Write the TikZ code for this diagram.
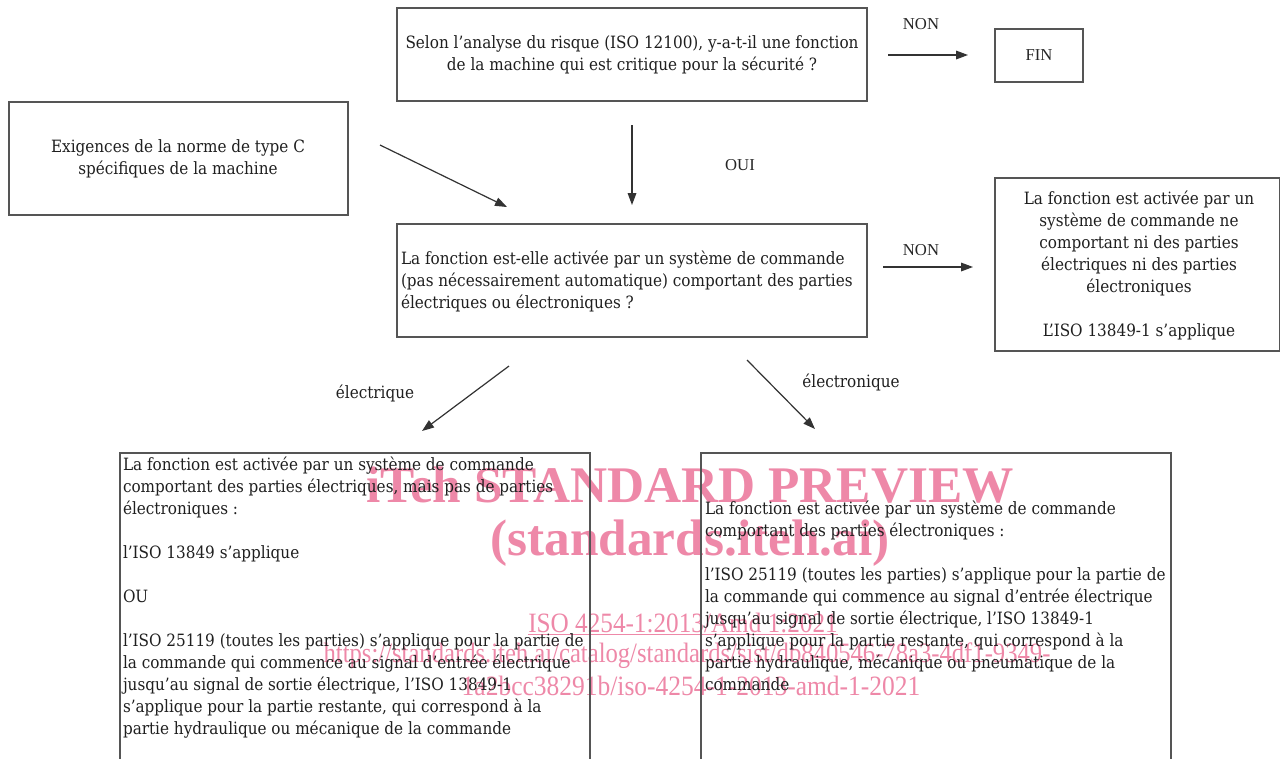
\documentclass[tikz,border=0pt]{standalone}
\usepackage{fontspec}
\setmainfont{DejaVu Serif Condensed}
\newfontfamily\wmfont{Liberation Serif}
\usetikzlibrary{arrows.meta}
\definecolor{boxline}{HTML}{555555}
\definecolor{arrline}{HTML}{333333}
\definecolor{wmpink}{HTML}{EE88A8}
\begin{document}
\begin{tikzpicture}[x=0.75pt,y=-0.75pt,
  every node/.style={inner sep=0pt,outer sep=0pt},
  txt/.style={font=\fontsize{12.7}{16.5}\selectfont,text=black!88},
  lbl/.style={font=\wmfont\fontsize{12.5}{15}\selectfont,text=black!85},
  boxc/.style={draw=boxline,line width=0.8pt,rectangle},
  arr/.style={draw=arrline,line width=0.9pt,-{Triangle[length=9pt,width=6.5pt]}},
  wm/.style={text=wmpink,font=\wmfont}
]
\useasboundingbox (0,0) rectangle (1280,758);
\fill[white] (0,0) rectangle (1280,758);

% boxes
\node[boxc,minimum width=470*0.75pt,minimum height=93*0.75pt,anchor=north west] (q1) at (397,8) {};
\node[txt,align=center] (q1t) at (632,55) {Selon l’analyse du risque (ISO 12100), y-a-t-il une fonction\\de la machine qui est critique pour la sécurité ?};

\node[boxc,minimum width=88*0.75pt,minimum height=53*0.75pt,anchor=north west] (fin) at (995,29) {};
\node[lbl] (fint) at (1039,55) {FIN};

\node[boxc,minimum width=339*0.75pt,minimum height=113*0.75pt,anchor=north west] (req) at (9,102) {};
\node[txt,align=center] (reqt) at (178,159) {Exigences de la norme de type C\\spécifiques de la machine};

\node[boxc,minimum width=470*0.75pt,minimum height=113*0.75pt,anchor=north west] (q2) at (397,224) {};
\node[txt,align=left,anchor=west] (q2t) at (401,281) {La fonction est-elle activée par un système de commande\\(pas nécessairement automatique) comportant des parties\\électriques ou électroniques ?};

\node[boxc,minimum width=285*0.75pt,minimum height=173*0.75pt,anchor=north west] (nonel) at (995,178) {};
\node[txt,align=center] (nonelt) at (1139,265) {La fonction est activée par un\\système de commande ne\\comportant ni des parties\\électriques ni des parties\\électroniques\\[16.5pt]L’ISO 13849-1 s’applique};

% bottom boxes (open at the bottom)
\coordinate (bl1) at (120,760); \coordinate (bl2) at (120,453);
\coordinate (bl3) at (590,453); \coordinate (bl4) at (590,760);
\coordinate (br1) at (701,760); \coordinate (br2) at (701,453);
\coordinate (br3) at (1171,453); \coordinate (br4) at (1171,760);

% watermark (behind)
\node[wm,font=\wmfont\bfseries\fontsize{38.5}{40}\selectfont] (wm1) at (690,485) {iTeh STANDARD PREVIEW};
\node[wm,font=\wmfont\bfseries\fontsize{38.5}{40}\selectfont] (wm2) at (690,543) {(standards.iteh.ai)};
\node[wm,font=\wmfont\fontsize{21}{24}\selectfont] (wm3) at (683,624) {\scalebox{0.9}[1]{\underline{ISO 4254-1:2013/Amd 1:2021}}};
\node[wm,font=\wmfont\fontsize{21}{24}\selectfont] (wm4) at (687,656) {\scalebox{0.88}[1]{https://standards.iteh.ai/catalog/standards/sist/db840546-78a3-4df1-9349-}};
\node[wm,font=\wmfont\fontsize{21}{24}\selectfont] (wm5) at (691,686) {\scalebox{0.91}[1]{1a2bcc38291b/iso-4254-1-2013-amd-1-2021}};

\draw[boxline,line width=0.8pt] (bl1) -- (bl2) -- (bl3) -- (bl4);
\draw[boxline,line width=0.8pt] (br1) -- (br2) -- (br3) -- (br4);

\node[txt,align=left,anchor=north west] (elt) at (123,457) {La fonction est activée par un système de commande\\comportant des parties électriques, mais pas de parties\\électroniques :\\[16.5pt]l’ISO 13849 s’applique\\[16.5pt]OU\\[16.5pt]l’ISO 25119 (toutes les parties) s’applique pour la partie de\\la commande qui commence au signal d’entrée électrique\\jusqu’au signal de sortie électrique, l’ISO 13849-1\\s’applique pour la partie restante, qui correspond à la\\partie hydraulique ou mécanique de la commande};

\node[txt,align=left,anchor=north west] (ent) at (705,501) {La fonction est activée par un système de commande\\comportant des parties électroniques :\\[16.5pt]l’ISO 25119 (toutes les parties) s’applique pour la partie de\\la commande qui commence au signal d’entrée électrique\\jusqu’au signal de sortie électrique, l’ISO 13849-1\\s’applique pour la partie restante, qui correspond à la\\partie hydraulique, mécanique ou pneumatique de la\\commande};

% arrow end points
\coordinate (a1s) at (888,55);  \coordinate (a1e) at (968,55);
\coordinate (a2s) at (632,125); \coordinate (a2e) at (632,205);
\coordinate (a3s) at (380,145); \coordinate (a3e) at (507,207);
\coordinate (a4s) at (883,267); \coordinate (a4e) at (973,267);
\coordinate (a5s) at (509,366); \coordinate (a5e) at (422,431);
\coordinate (a6s) at (747,360); \coordinate (a6e) at (815,429);

\draw[arr] (a1s) -- (a1e);
\draw[arr] (a2s) -- (a2e);
\draw[arr] (a3s) -- (a3e);
\draw[arr] (a4s) -- (a4e);
\draw[arr] (a5s) -- (a5e);
\draw[arr] (a6s) -- (a6e);

\node[lbl] (non1) at (921,24) {NON};
\node[lbl] (oui) at (740,165) {OUI};
\node[lbl] (non2) at (921,250) {NON};
\node[txt] (elec) at (375,393) {électrique};
\node[txt] (elecn) at (851,382) {électronique};
\end{tikzpicture}
\end{document}
